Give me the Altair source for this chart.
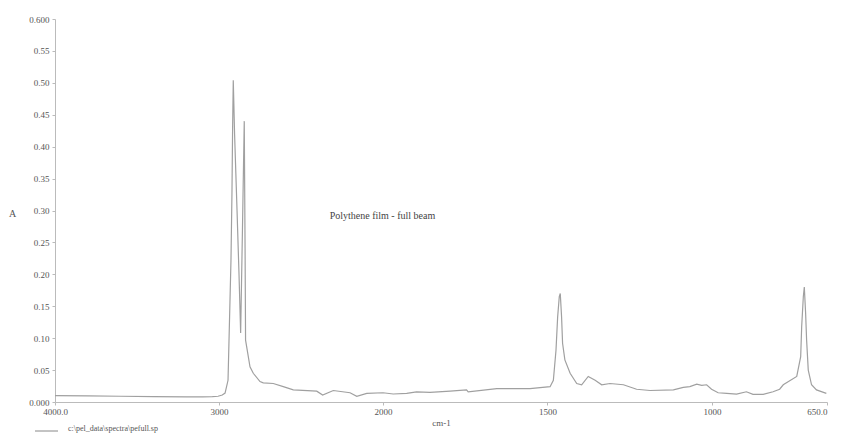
import altair as alt
import pandas as pd

wavenumber = [4000, 3800, 3600, 3400, 3200, 3100, 3040, 3006, 2980, 2963, 2945, 2937, 2927, 2921,
              2917, 2913, 2905, 2890, 2878, 2868, 2857, 2846, 2841, 2838, 2811, 2791, 2750, 2730,
              2669, 2608, 2547, 2404, 2368, 2303, 2201, 2160, 2099, 2000, 1969, 1928, 1898, 1857,
              1796, 1746, 1741, 1654, 1553, 1492, 1482, 1474, 1469, 1464, 1461, 1457, 1454, 1447,
              1431, 1411, 1396, 1376, 1355, 1335, 1310, 1269, 1229, 1188, 1117, 1087, 1067, 1046,
              1031, 1016, 1001, 981, 955, 925, 895, 875, 844, 814, 794, 783, 742, 730, 727, 722,
              719, 715, 712, 707, 697, 682, 652]
absorbance = [0.010, 0.0095, 0.009, 0.0085, 0.008, 0.008, 0.0085, 0.009, 0.011, 0.014, 0.034, 0.117,
              0.222, 0.327, 0.430, 0.504, 0.42, 0.30, 0.20, 0.108, 0.27, 0.44, 0.24, 0.097, 0.055,
              0.045, 0.032, 0.030, 0.029, 0.024, 0.019, 0.017, 0.011, 0.018, 0.0145, 0.009, 0.0136,
              0.0145, 0.0125, 0.0136, 0.016, 0.015, 0.017, 0.019, 0.016, 0.021, 0.021, 0.024, 0.034,
              0.081, 0.133, 0.165, 0.170, 0.133, 0.092, 0.066, 0.045, 0.029, 0.027, 0.040, 0.034,
              0.027, 0.029, 0.027, 0.020, 0.018, 0.019, 0.023, 0.024, 0.028, 0.026, 0.027, 0.020,
              0.0145, 0.0136, 0.0125, 0.016, 0.012, 0.012, 0.016, 0.020, 0.027, 0.040, 0.071, 0.118,
              0.165, 0.180, 0.139, 0.097, 0.050, 0.027, 0.019, 0.0136]

x_ticks = [4000, 3000, 2000, 1500, 1000, 650]
y_ticks = [0.0, 0.05, 0.10, 0.15, 0.20, 0.25, 0.30, 0.35, 0.40, 0.45, 0.50, 0.55, 0.60]

title_text = "Polythene film - full beam"
footer_text = "c:\\pel_data\\spectra\\pefull.sp"

df = pd.DataFrame({"wn": wavenumber, "A": absorbance})

FONT = "Liberation Serif"
W, H = 772, 383

x_scale = alt.Scale(domain=[4000, 2000, 650], range=[0, 328, W], nice=False, zero=False)
y_scale = alt.Scale(domain=[0, 0.6], nice=False)

line = alt.Chart(df).mark_line(color="#a0a0a0", strokeWidth=1.2).encode(
    x=alt.X("wn:Q", scale=x_scale,
            axis=alt.Axis(values=x_ticks, title="cm-1", grid=False,
                          labelExpr="datum.value == 4000 ? '4000.0' : datum.value == 650 ? '650.0' : format(datum.value, 'd')",
                          labelAlign={"condition": {"test": "datum.value == 650", "value": "right"}, "value": "center"},
                          labelFont=FONT, labelFontSize=9, labelColor="#555",
                          titleFont=FONT, titleFontSize=9, titleFontWeight="normal", titleColor="#555",
                          titlePadding=2, tickSize=3, tickColor="#bbb", domainColor="#bbb",
                          labelPadding=2, labelFlush=False, labelOverlap=False)),
    y=alt.Y("A:Q", scale=y_scale,
            axis=alt.Axis(values=y_ticks, tickCount=13, title="A", grid=False,
                          labelExpr="datum.value < 0.001 ? '0.000' : datum.value > 0.599 ? '0.600' : format(datum.value, '.2f')",
                          labelFont=FONT, labelFontSize=9, labelColor="#555",
                          titleFont=FONT, titleFontSize=10, titleFontWeight="normal", titleColor="#555",
                          titleAngle=0, titleX=-43, titleY=194, titleAlign="center", titleBaseline="middle",
                          tickSize=3, tickColor="#bbb", domainColor="#bbb", labelPadding=3,
                          labelOverlap=False)),
)

label = alt.Chart(pd.DataFrame({"wn": [2325], "A": [0.291], "t": [title_text]})).mark_text(
    align="left", baseline="middle", font=FONT, fontSize=10, color="#444"
).encode(x=alt.X("wn:Q", scale=x_scale), y=alt.Y("A:Q", scale=y_scale), text="t:N")

footer = alt.Chart(pd.DataFrame({"t": [footer_text]})).mark_text(
    align="left", baseline="middle", font=FONT, fontSize=8, color="#555"
).encode(x=alt.value(13), y=alt.value(410), text="t:N")

footer_line = alt.Chart(pd.DataFrame({"t": [0]})).mark_rule(color="#888", strokeWidth=1).encode(
    x=alt.value(-20), x2=alt.value(3), y=alt.value(412))

chart = alt.layer(line, label, footer, footer_line).properties(
    width=W, height=H,
    autosize=alt.AutoSizeParams(type="none"),
    padding={"left": 47, "top": 11, "right": 7, "bottom": 34},
).configure(background="white").configure_axis(labelOverlap=False).configure_view(stroke=None)

chart.save("out.html", embed_options={"renderer": "svg", "actions": False})
